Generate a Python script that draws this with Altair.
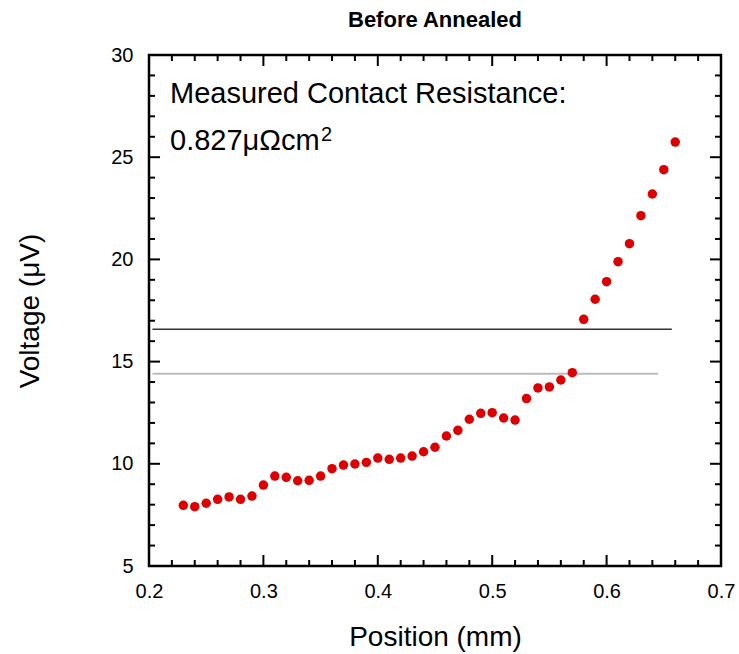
import altair as alt
import pandas as pd

# Data
positions = [0.23, 0.24, 0.25, 0.26, 0.27, 0.28, 0.29, 0.30, 0.31, 0.32, 0.33,
             0.34, 0.35, 0.36, 0.37, 0.38, 0.39, 0.40, 0.41, 0.42, 0.43, 0.44,
             0.45, 0.46, 0.47, 0.48, 0.49, 0.50, 0.51, 0.52, 0.53, 0.54, 0.55,
             0.56, 0.57, 0.58, 0.59, 0.60, 0.61, 0.62, 0.63, 0.64, 0.65, 0.66]
voltages = [7.97, 7.90, 8.07, 8.26, 8.38, 8.26, 8.42, 8.96, 9.40, 9.34, 9.17,
            9.19, 9.40, 9.76, 9.94, 9.99, 10.07, 10.28, 10.22, 10.28, 10.38, 10.59,
            10.81, 11.36, 11.64, 12.18, 12.47, 12.50, 12.24, 12.14, 13.19, 13.71, 13.76,
            14.10, 14.46, 17.07, 18.05, 18.91, 19.89, 20.77, 22.14, 23.20, 24.39, 25.74]

line_y = [16.58, 14.41]
line_x_start = [0.203, 0.203]
line_x_end = [0.657, 0.645]
line_kind = ["dark", "light"]

x_major = [0.2, 0.3, 0.4, 0.5, 0.6, 0.7]
x_minor = [0.22, 0.24, 0.26, 0.28, 0.32, 0.34, 0.36, 0.38, 0.42, 0.44, 0.46, 0.48,
           0.52, 0.54, 0.56, 0.58, 0.62, 0.64, 0.66, 0.68]
y_major = [5, 10, 15, 20, 25, 30]
y_minor = [6, 7, 8, 9, 11, 12, 13, 14, 16, 17, 18, 19, 21, 22, 23, 24, 26, 27, 28, 29]

annot_line1 = "Measured Contact Resistance:"
annot_line2 = "0.827μΩcm"
annot_sup = "2"

W, H = 572, 511
FONT = "Liberation Sans"
MAJ, MIN = 11, 6

xs = alt.Scale(domain=[0.2, 0.7], nice=False, zero=False)
ys = alt.Scale(domain=[5, 30], nice=False, zero=False)

x_axis = alt.Axis(title="Position (mm)", values=x_major, format=".1f",
                  ticks=False, grid=False, domain=False, labelFlush=False,
                  labelFontSize=20, labelFont=FONT, labelPadding=15,
                  labelColor="black",
                  titleFontSize=28, titleFont=FONT, titleFontWeight="normal",
                  titleColor="black", titleX=W / 2, titleY=71,
                  titleBaseline="middle", titleAlign="center")
y_axis = alt.Axis(title="Voltage (μV)", values=y_major, format="d",
                  ticks=False, grid=False, domain=False, labelFlush=False,
                  labelFontSize=20, labelFont=FONT, labelPadding=16,
                  labelColor="black",
                  titleFontSize=28, titleFont=FONT, titleFontWeight="normal",
                  titleColor="black", titleX=-119, titleY=H / 2,
                  titleAngle=-90, titleBaseline="middle", titleAlign="center")


def X(field="x"):
    return alt.X(f"{field}:Q", scale=xs, axis=x_axis, title="Position (mm)")


def Y(field="y"):
    return alt.Y(f"{field}:Q", scale=ys, axis=y_axis, title="Voltage (μV)")


pts = pd.DataFrame({"x": positions, "y": voltages})
lines = pd.DataFrame({"y": line_y, "x": line_x_start, "x2": line_x_end, "kind": line_kind})

points = alt.Chart(pts).mark_circle(size=90, color="#dd0000", opacity=1).encode(
    x=X(), y=Y())

ref_lines = alt.Chart(lines).mark_rule().encode(
    x=X(), x2="x2:Q", y=Y(),
    color=alt.Color("kind:N", scale=alt.Scale(domain=["dark", "light"],
                                               range=["#333333", "#bbbbbb"]), legend=None),
    strokeWidth=alt.StrokeWidth("kind:N", scale=alt.Scale(domain=["dark", "light"],
                                                         range=[1.4, 2]), legend=None),
)


def xticks(vals, length):
    df = pd.DataFrame({"x": vals})
    bottom = alt.Chart(df).mark_rule(color="black", strokeWidth=2).encode(
        x=X(), y=alt.value(H), y2=alt.value(H - length))
    top = alt.Chart(df).mark_rule(color="black", strokeWidth=2).encode(
        x=X(), y=alt.value(0), y2=alt.value(length))
    return [bottom, top]


def yticks(vals, length):
    df = pd.DataFrame({"y": vals})
    left = alt.Chart(df).mark_rule(color="black", strokeWidth=2).encode(
        y=Y(), x=alt.value(0), x2=alt.value(length))
    right = alt.Chart(df).mark_rule(color="black", strokeWidth=2).encode(
        y=Y(), x=alt.value(W), x2=alt.value(W - length))
    return [left, right]


def text_line(txt, xpix, ypix, size=29):
    df = pd.DataFrame({"t": [txt]})
    return alt.Chart(df).mark_text(align="left", baseline="alphabetic", fontSize=size,
                                   font=FONT, color="black").encode(
        text="t:N", x=alt.value(xpix), y=alt.value(ypix))


layers = [ref_lines] + xticks(x_major, MAJ) + xticks(x_minor, MIN) + \
    yticks(y_major, MAJ) + yticks(y_minor, MIN) + \
    [points,
     text_line(annot_line1, 21, 48),
     text_line(annot_line2, 21, 95),
     text_line(annot_sup, 172, 86, size=20)]

chart = alt.layer(*layers).properties(
    width=W, height=H,
    background="white",
    title=alt.TitleParams("Before Annealed", font=FONT, fontSize=22, fontWeight="bold",
                          color="black", anchor="middle", offset=13),
    padding={"left": 149, "top": 55, "right": 18, "bottom": 88},
    autosize=alt.AutoSizeParams(type="none"),
).configure_view(
    stroke="black", strokeWidth=2.5
)

chart.save("out.html", embed_options={"renderer": "svg", "actions": False})
